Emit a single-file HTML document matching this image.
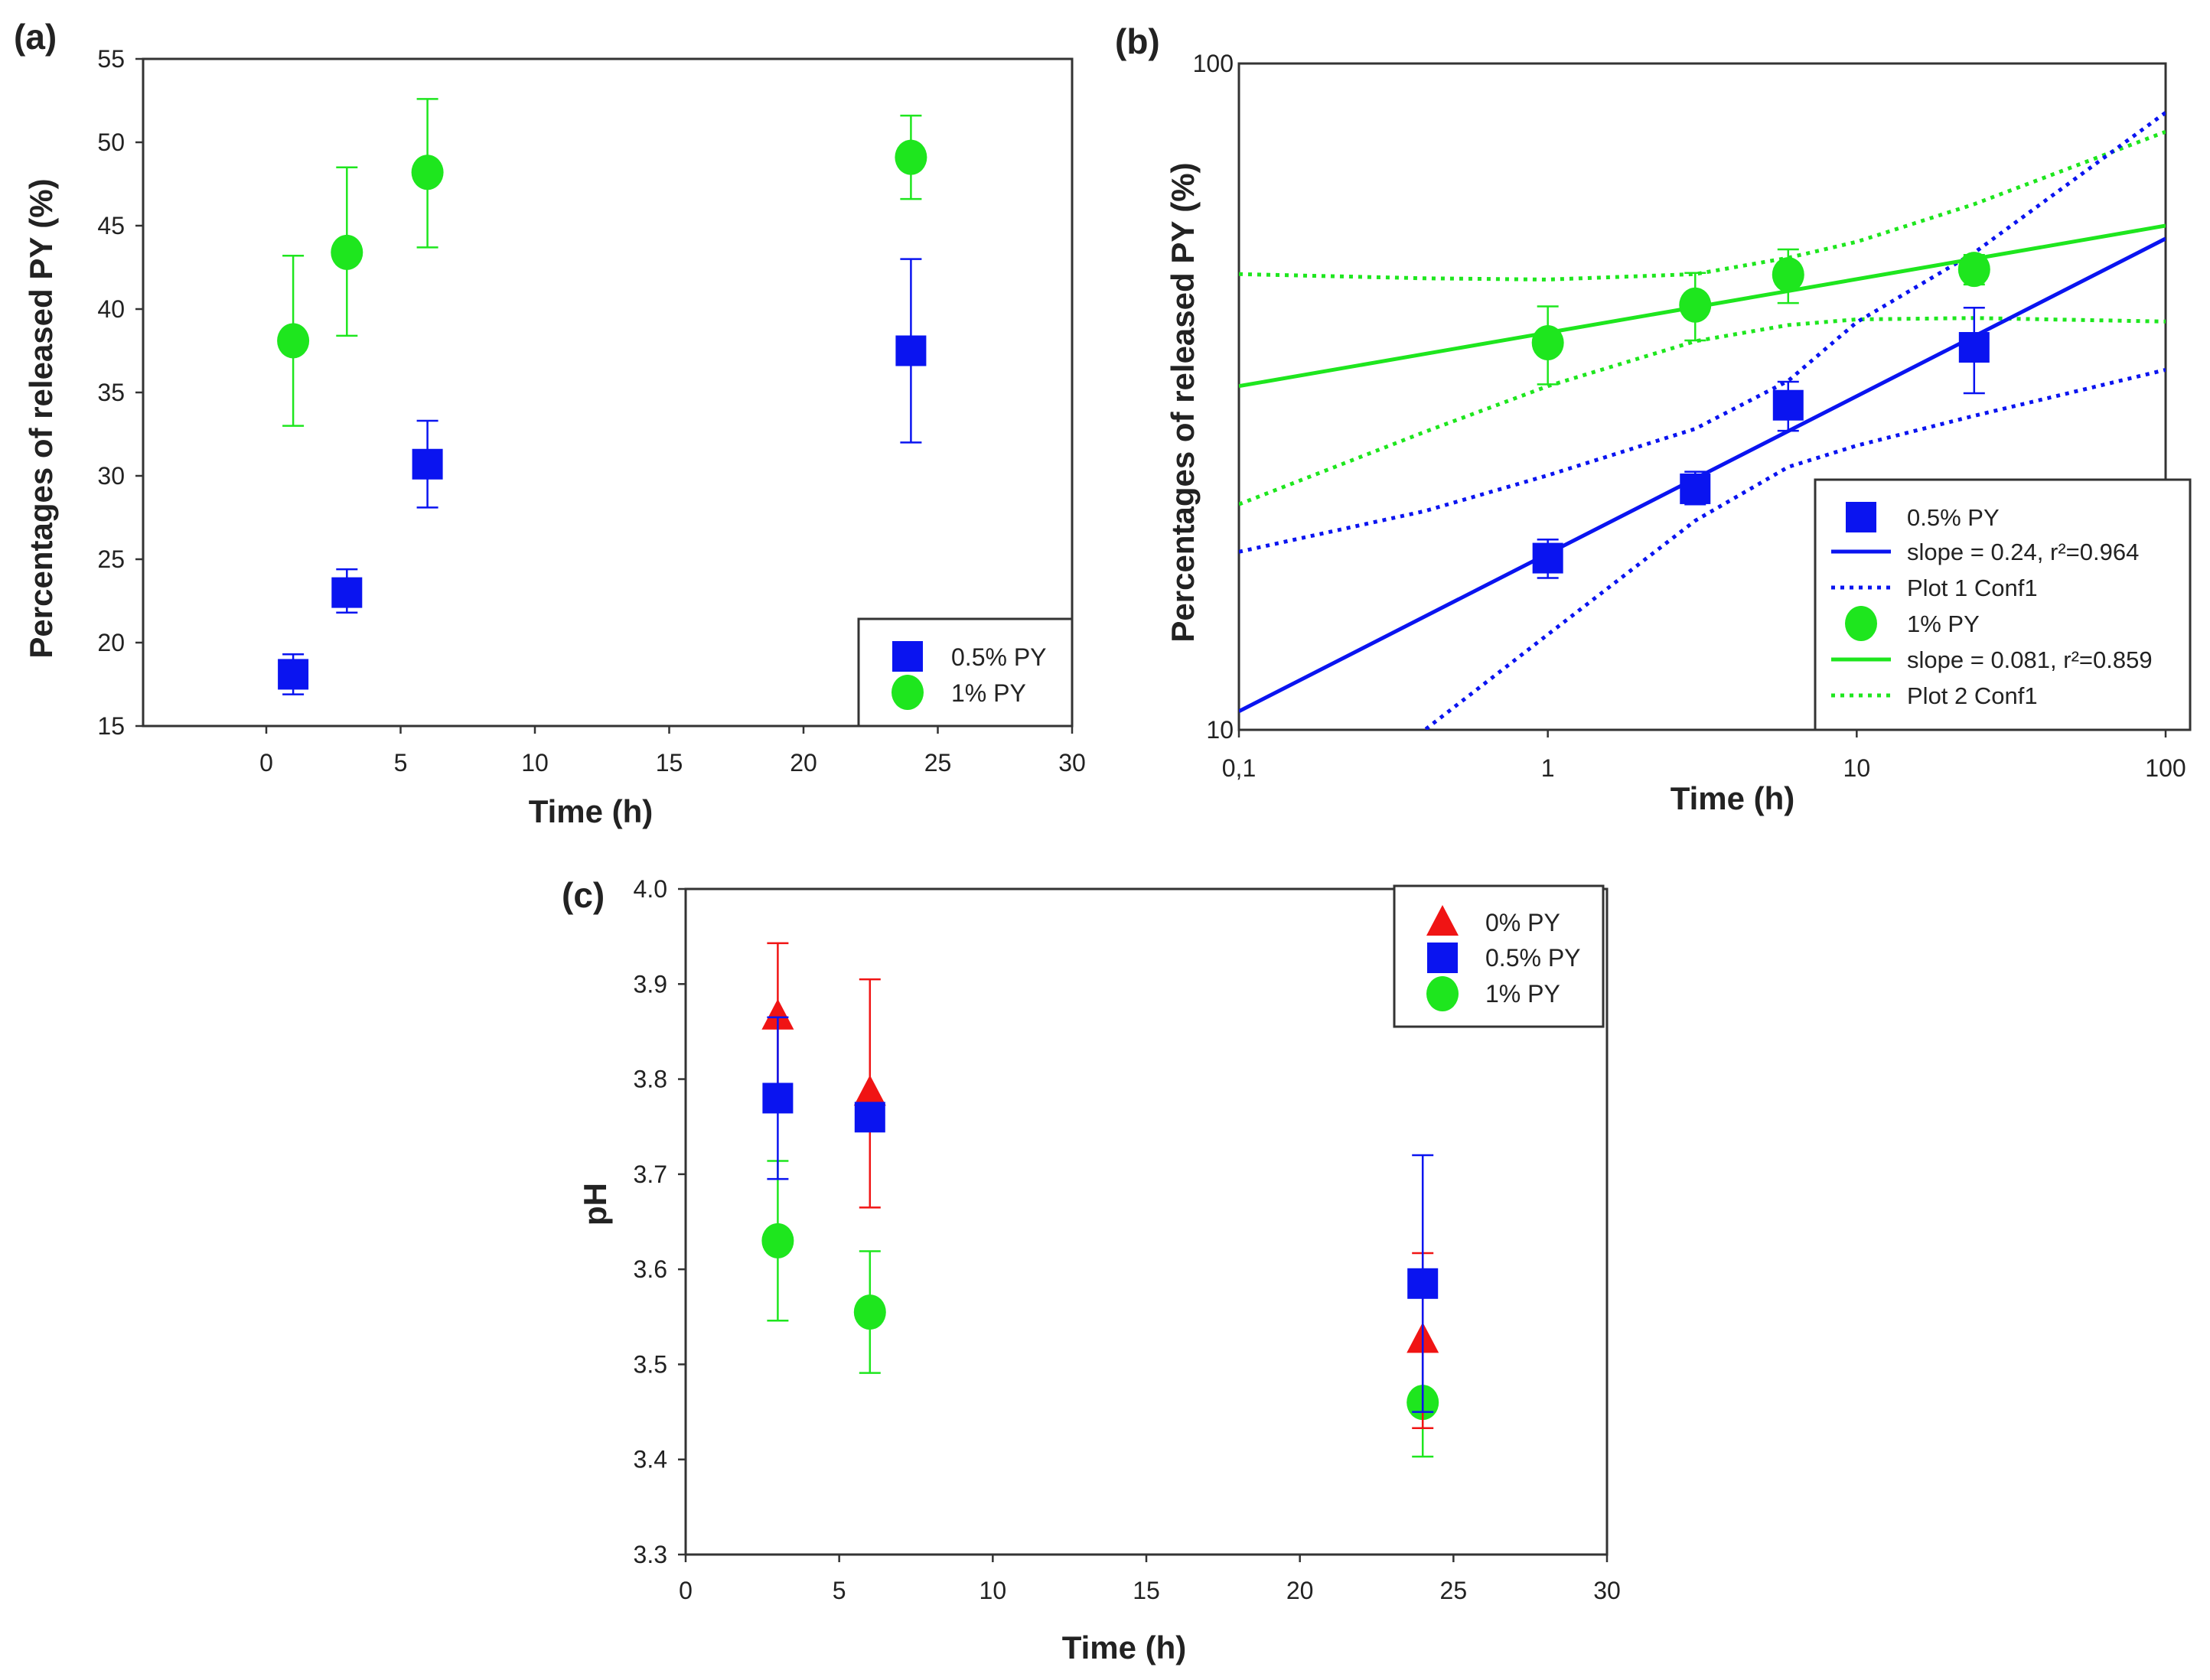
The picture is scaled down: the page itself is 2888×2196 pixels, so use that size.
<!DOCTYPE html>
<html><head><meta charset="utf-8"><style>
html,body{margin:0;padding:0;background:#fff}
svg{display:block;font-family:"Liberation Sans",Arial,sans-serif}
</style></head><body>
<svg id="fig" width="2888" height="2196" viewBox="0 0 2888 2196"></svg>
<script>
// ---- Data (a) & (b): released PY
const timesAB = [1, 3, 6, 24];
const py05 = [18.1, 23.0, 30.7, 37.5];
const py05Lo = [16.9, 21.8, 28.1, 32.0];
const py05Hi = [19.3, 24.4, 33.3, 43.0];
const py1 = [38.1, 43.4, 48.2, 49.1];
const py1Lo = [33.0, 38.4, 43.7, 46.6];
const py1Hi = [43.2, 48.5, 52.6, 51.6];
const ticksA_X = [0, 5, 10, 15, 20, 25, 30];
const ticksA_Y = [15, 20, 25, 30, 35, 40, 45, 50, 55];
// (b) fits and confidence bands
const fitX = [0.1, 100];
const fitBlue = [10.66, 54.6];
const fitGreen = [32.8, 57.1];
const confX = [0.1, 0.4, 1, 3, 6, 10, 24, 100];
const conf1Hi = [18.5, 21.3, 24.1, 28.3, 33.4, 40.9, 52, 84.4];
const conf1Lo = [6.0, 10.0, 13.9, 20.6, 24.8, 26.7, 29.6, 34.7];
const conf2Hi = [48.3, 47.6, 47.4, 48.3, 51.1, 54, 61.5, 79];
const conf2Lo = [21.8, 28.0, 32.8, 38.3, 40.5, 41.3, 41.5, 41.0];
const ticksB_X = [0.1, 1, 10, 100];
const ticksB_XLabels = ["0,1", "1", "10", "100"];
const ticksB_Y = [10, 100];
// ---- Data (c): pH
const timesC = [3, 6, 24];
const ph0 = [3.865, 3.785, 3.525];
const ph0Lo = [3.787, 3.665, 3.433];
const ph0Hi = [3.943, 3.905, 3.617];
const ph05 = [3.78, 3.76, 3.585];
const ph05Lo = [3.695, 3.752, 3.45];
const ph05Hi = [3.865, 3.768, 3.72];
const ph1 = [3.63, 3.555, 3.46];
const ph1Lo = [3.546, 3.491, 3.403];
const ph1Hi = [3.714, 3.619, 3.52];
const ticksC_X = [0, 5, 10, 15, 20, 25, 30];
const ticksC_Y = [3.3, 3.4, 3.5, 3.6, 3.7, 3.8, 3.9, 4.0];

const NS = "http://www.w3.org/2000/svg";
const fig = document.getElementById('fig');
function mk(tag, attrs, parent, text) {
  const e = document.createElementNS(NS, tag);
  for (const k in attrs) e.setAttribute(k, attrs[k]);
  if (text !== undefined) e.textContent = text;
  (parent || fig).appendChild(e);
  return e;
}
const BLUE = "#0a14f0", GREEN = "#1ee61e", RED = "#f01414";
function lin(d0, d1, p0, p1) { return v => p0 + (v - d0) / (d1 - d0) * (p1 - p0); }
function logS(d0, d1, p0, p1) { return v => p0 + (Math.log10(v) - Math.log10(d0)) / (Math.log10(d1) - Math.log10(d0)) * (p1 - p0); }

function marker(g, type, cx, cy, color, name) {
  let el;
  if (type === 'sq') el = mk('rect', {x: cx - 20, y: cy - 20, width: 40, height: 40, fill: color}, g);
  else if (type === 'ci') el = mk('ellipse', {cx: cx, cy: cy, rx: 21, ry: 23, fill: color}, g);
  else el = mk('polygon', {points: `${cx},${cy - 24} ${cx + 21},${cy + 16} ${cx - 21},${cy + 16}`, fill: color}, g);
  
  
  return el;
}
function errbar(g, x, y1, y2, color, name) {
  const e = mk('path', {d: `M${x},${y1}V${y2}M${x - 14},${y1}H${x + 14}M${x - 14},${y2}H${x + 14}`, stroke: color, 'stroke-width': 2.5, fill: 'none'}, g);
  
  
}
function series(g, xs, ys, lo, hi, X, Y, type, color, name) {
  for (let i = 0; i < xs.length; i++) errbar(g, X(xs[i]), Y(lo[i]), Y(hi[i]), color, name + '-error-bar');
  for (let i = 0; i < xs.length; i++) marker(g, type, X(xs[i]), Y(ys[i]), color, name + '-point');
}
function frame(g, L, T, R, B) {
  const f = mk('rect', {x: L, y: T, width: R - L, height: B - T, fill: 'none', stroke: '#333', 'stroke-width': 3}, g);
  
  
}
function txt(g, x, y, s, size, anchor, bold, name, rot) {
  const a = {x: x, y: y, 'font-size': size, 'text-anchor': anchor, fill: '#222'};
  if (bold) a['font-weight'] = 'bold';
  if (rot) a.transform = `rotate(-90 ${x} ${y})`;
  const t = mk('text', a, g, s);
  
  
  return t;
}

// ===== Panel (a)
(function () {
  const L = 187, R = 1401, T = 77, B = 949;
  const X = lin(0, 30, 348, 1401), Y = lin(15, 55, 949, 77);
  const g = mk('g', {});
  
  
  frame(g, L, T, R, B);
  ticksA_X.forEach(v => { mk('line', {x1: X(v), x2: X(v), y1: B, y2: B + 10, stroke: '#333', 'stroke-width': 2.5}, g); txt(g, X(v), 1008, String(v), 32, 'middle', false, 'x-tick-label'); });
  ticksA_Y.forEach(v => { mk('line', {x1: L - 10, x2: L, y1: Y(v), y2: Y(v), stroke: '#333', 'stroke-width': 2.5}, g); txt(g, 163, Y(v) + 11, String(v), 32, 'end', false, 'y-tick-label'); });
  series(g, timesAB, py1, py1Lo, py1Hi, X, Y, 'ci', GREEN, 'py1');
  series(g, timesAB, py05, py05Lo, py05Hi, X, Y, 'sq', BLUE, 'py05');
  const lg = mk('g', {}, g);
  
  
  mk('rect', {x: 1122, y: 809, width: 279, height: 140, fill: '#fff', stroke: '#333', 'stroke-width': 3}, lg);
  marker(lg, 'sq', 1186, 858, BLUE, 'legend-marker');
  txt(lg, 1243, 870, '0.5% PY', 32, 'start', false, 'legend-entry');
  marker(lg, 'ci', 1186, 905, GREEN, 'legend-marker');
  txt(lg, 1243, 917, '1% PY', 32, 'start', false, 'legend-entry');
  txt(g, 772, 1075, 'Time (h)', 42, 'middle', true, 'x-axis-title');
  txt(g, 68, 547, 'Percentages of released PY (%)', 42, 'middle', true, 'y-axis-title', true);
  txt(g, 18, 64, '(a)', 46, 'start', true, 'panel-label');
})();

// ===== Panel (b)
(function () {
  const L = 1619, R = 2830, T = 83, B = 954;
  const X = logS(0.1, 100, 1619, 2830), Y = logS(10, 100, 954, 83);
  const g = mk('g', {});
  
  
  const defs = mk('defs', {}, g);
  const cp = mk('clipPath', {id: 'clipb'}, defs);
  mk('rect', {x: L, y: T, width: R - L, height: B - T}, cp);
  frame(g, L, T, R, B);
  ticksB_X.forEach((v, i) => { mk('line', {x1: X(v), x2: X(v), y1: B, y2: B + 10, stroke: '#333', 'stroke-width': 2.5}, g); txt(g, X(v), 1015, ticksB_XLabels[i], 32, 'middle', false, 'x-tick-label'); });
  ticksB_Y.forEach(v => { txt(g, 1612, Y(v) + 11, String(v), 32, 'end', false, 'y-tick-label'); });
  const cg = mk('g', {'clip-path': 'url(#clipb)'}, g);
  function line(xs, ys, color, dash, name) {
    const pts = xs.map((x, i) => X(x).toFixed(1) + ',' + Y(ys[i]).toFixed(1)).join(' ');
    const a = {points: pts, fill: 'none', stroke: color, 'stroke-width': 5};
    if (dash) { a['stroke-dasharray'] = '5 7'; a['stroke-linecap'] = 'butt'; }
    const p = mk('polyline', a, cg);
    
    
  }
  line(confX, conf2Hi, GREEN, true, 'conf-band-2-upper');
  line(confX, conf2Lo, GREEN, true, 'conf-band-2-lower');
  line(confX, conf1Hi, BLUE, true, 'conf-band-1-upper');
  line(confX, conf1Lo, BLUE, true, 'conf-band-1-lower');
  line(fitX, fitGreen, GREEN, false, 'fit-line-1pct');
  line(fitX, fitBlue, BLUE, false, 'fit-line-05pct');
  series(g, timesAB, py1, py1Lo, py1Hi, X, Y, 'ci', GREEN, 'py1');
  series(g, timesAB, py05, py05Lo, py05Hi, X, Y, 'sq', BLUE, 'py05');
  const lg = mk('g', {}, g);
  
  
  mk('rect', {x: 2372, y: 627, width: 490, height: 327, fill: '#fff', stroke: '#333', 'stroke-width': 3}, lg);
  const ys = [676, 721, 768, 815, 862, 909];
  const labels = ['0.5% PY', 'slope = 0.24, r\u00b2=0.964', 'Plot 1 Conf1', '1% PY', 'slope = 0.081, r\u00b2=0.859', 'Plot 2 Conf1'];
  labels.forEach((s, i) => {
    const c = i < 3 ? BLUE : GREEN, y = ys[i];
    if (i % 3 === 0) marker(lg, i === 0 ? 'sq' : 'ci', 2432, y, c, 'legend-marker');
    else {
      const a = {x1: 2393, x2: 2471, y1: y, y2: y, stroke: c, 'stroke-width': 5};
      if (i % 3 === 2) a['stroke-dasharray'] = '5 7';
      const l = mk('line', a, lg);
      
      
    }
    txt(lg, 2492, y + 11, s, 31, 'start', false, 'legend-entry');
  });
  txt(g, 2264, 1058, 'Time (h)', 42, 'middle', true, 'x-axis-title');
  txt(g, 1560, 526, 'Percentages of released PY (%)', 42, 'middle', true, 'y-axis-title', true);
  txt(g, 1457, 70, '(b)', 46, 'start', true, 'panel-label');
})();

// ===== Panel (c)
(function () {
  const L = 896, R = 2100, T = 1162, B = 2032;
  const X = lin(0, 30, 896, 2100), Y = lin(3.3, 4.0, 2032, 1162);
  const g = mk('g', {});
  
  
  frame(g, L, T, R, B);
  ticksC_X.forEach(v => { mk('line', {x1: X(v), x2: X(v), y1: B, y2: B + 10, stroke: '#333', 'stroke-width': 2.5}, g); txt(g, X(v), 2090, String(v), 32, 'middle', false, 'x-tick-label'); });
  ticksC_Y.forEach(v => { mk('line', {x1: L - 10, x2: L, y1: Y(v), y2: Y(v), stroke: '#333', 'stroke-width': 2.5}, g); txt(g, 872, Y(v) + 11, v.toFixed(1), 32, 'end', false, 'y-tick-label'); });
  series(g, timesC, ph1, ph1Lo, ph1Hi, X, Y, 'ci', GREEN, 'ph-1pct');
  series(g, timesC, ph0, ph0Lo, ph0Hi, X, Y, 'tr', RED, 'ph-0pct');
  series(g, timesC, ph05, ph05Lo, ph05Hi, X, Y, 'sq', BLUE, 'ph-05pct');
  const lg = mk('g', {}, g);
  
  
  mk('rect', {x: 1822, y: 1158, width: 273, height: 184, fill: '#fff', stroke: '#333', 'stroke-width': 3}, lg);
  marker(lg, 'tr', 1885, 1207, RED, 'legend-marker');
  txt(lg, 1941, 1217, '0% PY', 32, 'start', false, 'legend-entry');
  marker(lg, 'sq', 1885, 1252, BLUE, 'legend-marker');
  txt(lg, 1941, 1263, '0.5% PY', 32, 'start', false, 'legend-entry');
  marker(lg, 'ci', 1885, 1299, GREEN, 'legend-marker');
  txt(lg, 1941, 1310, '1% PY', 32, 'start', false, 'legend-entry');
  txt(g, 1469, 2168, 'Time (h)', 42, 'middle', true, 'x-axis-title');
  txt(g, 792, 1574, 'pH', 42, 'middle', true, 'y-axis-title', true);
  txt(g, 734, 1186, '(c)', 46, 'start', true, 'panel-label');
})();
</script>
</body></html>
